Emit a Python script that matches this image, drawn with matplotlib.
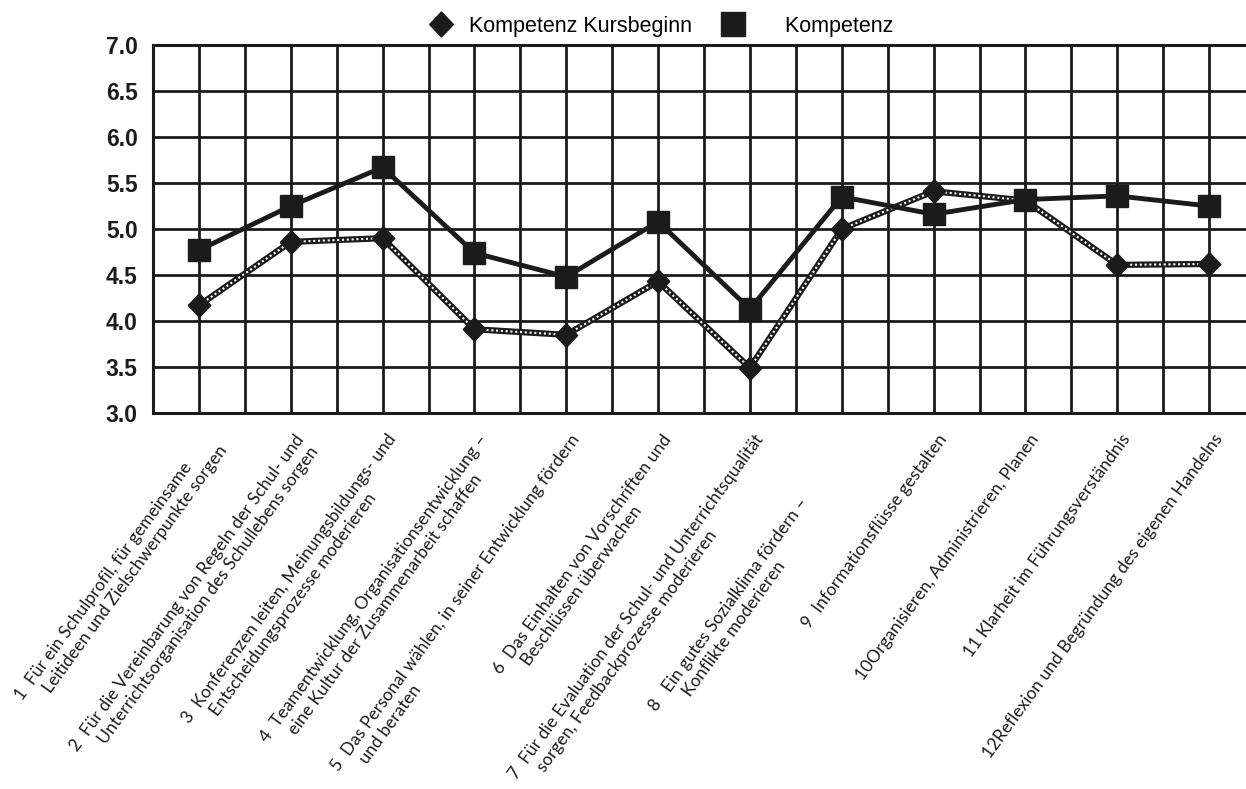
import numpy as np
import matplotlib
matplotlib.use('Agg')
import matplotlib.pyplot as plt
import matplotlib.transforms as mtransforms
from matplotlib.lines import Line2D

# competence areas (x axis), as printed under the chart
categories = [
    "1  Für ein Schulprofil, für gemeinsame\n     Leitideen und Zielschwerpunkte sorgen",
    "2  Für die Vereinbarung von Regeln der Schul- und\n     Unterrichtsorganisation des Schullebens sorgen",
    "3  Konferenzen leiten, Meinungsbildungs- und\n     Entscheidungsprozesse moderieren",
    "4  Teamentwicklung, Organisationsentwicklung –\n     eine Kultur der Zusammenarbeit schaffen",
    "5  Das Personal wählen, in seiner Entwicklung fördern\n     und beraten",
    "6  Das Einhalten von Vorschriften und\n     Beschlüssen überwachen",
    "7  Für die Evaluation der Schul- und Unterrichtsqualität\n     sorgen, Feedbackprozesse moderieren",
    "8   Ein gutes Sozialklima fördern –\n       Konflikte moderieren",
    "9  Informationsflüsse gestalten",
    "10Organisieren, Administrieren, Planen",
    "11 Klarheit im Führungsverständnis",
    "12Reflexion und Begründung des eigenen Handelns",
]
kursbeginn = [4.17, 4.86, 4.90, 3.91, 3.85, 4.43, 3.49, 5.00, 5.41, 5.31, 4.61, 4.62]
kompetenz = [4.77, 5.25, 5.67, 4.74, 4.48, 5.08, 4.13, 5.35, 5.16, 5.32, 5.36, 5.25]
y_ticks = [3.0, 3.5, 4.0, 4.5, 5.0, 5.5, 6.0, 6.5, 7.0]
legend_labels = ['Kompetenz Kursbeginn', '    Kompetenz']

ink = '#1b1b1b'
W, H = 1246, 789

fig = plt.figure(figsize=(W / 100, H / 100), dpi=100)
# plot area runs past the right edge like the scanned original
ax = fig.add_axes([153 / W, 1 - 413 / H, (1255 - 153) / W, 368 / H])

x = np.arange(1, len(categories) + 1)
diamond = [(-0.95, 0), (0, 1), (0.95, 0), (0, -1), (-0.95, 0)]

# start-of-course line: black band with white dotted core
ax.plot(x, kursbeginn, color=ink, lw=4.5, zorder=3, solid_capstyle='butt')
ax.plot(x, kursbeginn, color='white', lw=1.5, ls=(0, (1.0, 1.3)), zorder=3.1)
ax.plot(x, kursbeginn, ls='none', marker=diamond, ms=17, color=ink, zorder=3.2)
ax.plot(x, kompetenz, color=ink, lw=3.5, marker='s', ms=16, zorder=4)

ax.set_xlim(0.5, 12.5)
ax.set_ylim(3.0, 7.0)
ax.set_xticks(x)
ax.set_xticks(np.arange(1.5, 12.5, 1.0), minor=True)
ax.set_yticks(y_ticks)
ax.set_xticklabels([])
ax.set_yticklabels(['{:.1f}'.format(v) for v in y_ticks],
                   fontsize=16.5, fontweight='bold', family='Liberation Sans', color=ink)
ax.tick_params(axis='both', which='both', length=0)
ax.tick_params(axis='y', pad=11)
ax.grid(True, which='both', color=ink, lw=2.0)
ax.set_axisbelow(True)
for sp in ax.spines.values():
    sp.set_color(ink)
    sp.set_linewidth(2.2)

# rotated category labels
base = mtransforms.blended_transform_factory(ax.transData, ax.transAxes)
for i, lab in enumerate(categories):
    trans = base
    if i == 7:
        trans = mtransforms.offset_copy(base, fig=fig, x=-34, y=-46, units='points')
    ax.text(x[i] + 0.04, -0.05, lab, transform=trans, rotation=54,
            rotation_mode='anchor', ha='right', va='top', multialignment='left',
            fontsize=12.5, family='Lato', color=ink)

handles = [
    Line2D([], [], ls='none', marker=diamond, ms=18, color=ink),
    Line2D([], [], ls='none', marker='s', ms=17, color=ink),
]
fig.legend(handles, legend_labels, loc='center', bbox_to_anchor=(0.527, 0.967),
           ncol=2, frameon=False, handletextpad=0.3, columnspacing=0.9,
           prop={'family': 'Liberation Sans', 'size': 15.5})

fig.savefig('out.png', dpi=100, facecolor='white')
